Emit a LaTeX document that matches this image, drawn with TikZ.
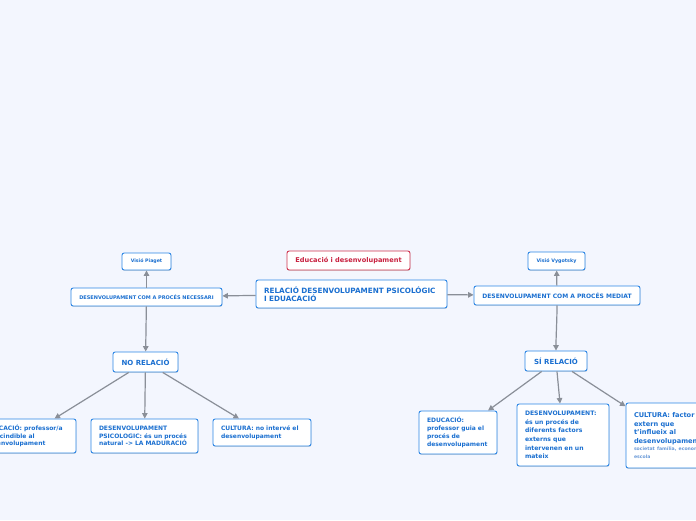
\documentclass[tikz,border=0pt]{standalone}
\usepackage{fontspec}
\setmainfont{DejaVu Sans}
\usetikzlibrary{arrows.meta,shadows}
\definecolor{bg}{HTML}{F3F6FE}
\definecolor{bblue}{HTML}{2C86E5}
\definecolor{tblue}{HTML}{1A6FD0}
\definecolor{sblue}{HTML}{6A9AD8}
\definecolor{rborder}{HTML}{D0344F}
\definecolor{rtext}{HTML}{C8203F}
\definecolor{edgegray}{HTML}{8A8F98}
\tikzset{
  box/.style={draw=bblue, line width=0.9pt, fill=white, rounded corners=2.2pt,
    text=tblue, font=\bfseries, inner sep=2pt,
    drop shadow={shadow xshift=0.4pt, shadow yshift=-0.9pt, opacity=0.22, fill=black!60}},
  redbox/.style={box, draw=rborder, text=rtext},
  tbox/.style={box, align=left, inner xsep=8pt},
  edge/.style={draw=edgegray, line width=1.2pt, -{Triangle[length=5.5pt,width=5.5pt]}},
}
\begin{document}
\begin{tikzpicture}[x=1pt,y=-1pt]
\useasboundingbox (0,0) rectangle (696,520);
\clip (0,0) rectangle (696,520);
\fill[bg] (0,0) rectangle (696,520);

\node[redbox, minimum width=123pt, minimum height=19pt, font=\bfseries\fontsize{6.6}{8}\selectfont] (edu) at (348.5,260.5) {Educació i desenvolupament};
\node[tbox, text width=175pt, minimum height=28pt, inner xsep=8pt, font=\bfseries\fontsize{7.25}{8.2}\selectfont] (rel) at (351.5,294) {RELACIÓ DESENVOLUPAMENT PSICOLÓGIC\\I EDUACACIÓ};

\node[box, minimum width=151pt, minimum height=18pt, font=\bfseries\fontsize{5}{6}\selectfont] (nec) at (146.5,297) {DESENVOLUPAMENT COM A PROCÉS NECESSARI};
\node[box, minimum width=49pt, minimum height=17pt, font=\bfseries\fontsize{4.7}{6}\selectfont] (piaget) at (146.5,261.5) {Visió Piaget};
\node[box, minimum width=166pt, minimum height=19pt, font=\bfseries\fontsize{6}{7}\selectfont] (med) at (557,295.5) {DESENVOLUPAMENT COM A PROCÉS MEDIAT};
\node[box, minimum width=57pt, minimum height=18pt, font=\bfseries\fontsize{4.8}{6}\selectfont] (vyg) at (556.5,261) {Visió Vygotsky};

\node[box, minimum width=65pt, minimum height=20pt, font=\bfseries\fontsize{7}{8}\selectfont] (no) at (145.5,362) {NO RELACIÓ};
\node[box, minimum width=62pt, minimum height=20pt, font=\bfseries\fontsize{7}{8}\selectfont] (si) at (556,361) {SÍ RELACIÓ};

\node[tbox, text width=83pt, minimum height=34pt, font=\bfseries\fontsize{6}{7.8}\selectfont] (ed1) at (26.5,436) {EDUCACIÓ: professor/a\\prescindible al\\desenvolupament};
\node[tbox, text width=91pt, minimum height=34pt, font=\bfseries\fontsize{6}{7.8}\selectfont] (ps1) at (144.5,436) {DESENVOLUPAMENT\\PSICOLOGIC: és un procés\\natural -> LA MADURACIÓ};
\node[tbox, text width=82pt, minimum height=27pt, font=\bfseries\fontsize{6}{7.8}\selectfont] (cu1) at (262,432.5) {CULTURA: no intervé el\\desenvolupament};

\node[tbox, text width=62pt, minimum height=43pt, font=\bfseries\fontsize{6}{8.1}\selectfont] (ed2) at (458,432.5) {EDUCACIÓ:\\professor guia el\\procés de\\desenvolupament};
\node[tbox, text width=76pt, minimum height=62pt, font=\bfseries\fontsize{6.1}{8.6}\selectfont] (de2) at (563,435) {DESENVOLUPAMENT:\\és un procés de\\diferents factors\\externs que\\intervenen en un\\mateix};
\node[tbox, text width=73pt, minimum height=65pt, font=\bfseries\fontsize{6.6}{8.6}\selectfont] (cu2) at (670.5,435.5) {CULTURA: factor\\extern que\\t'influeix al\\desenvolupament\\[-1.5pt]{\color{sblue}\fontsize{4.6}{8.6}\selectfont societat família, economia,}\\[-0.8pt]{\color{sblue}\fontsize{4.6}{8}\selectfont escola}};

\draw[edge] (rel) -- (nec);
\draw[edge] (rel) -- (med);
\draw[edge] (nec) -- (piaget);
\draw[edge] (med) -- (vyg);
\draw[edge] (nec) -- (no);
\draw[edge] (med.south) .. controls +(0,15) and +(0,-15) .. (si.north);
\draw[edge] (no) -- (ed1);
\draw[edge] (no) -- (ps1);
\draw[edge] (no) -- (cu1);
\draw[edge] (si) -- (ed2);
\draw[edge] (si) -- (de2);
\draw[edge] (si) -- (cu2);
\end{tikzpicture}
\end{document}
